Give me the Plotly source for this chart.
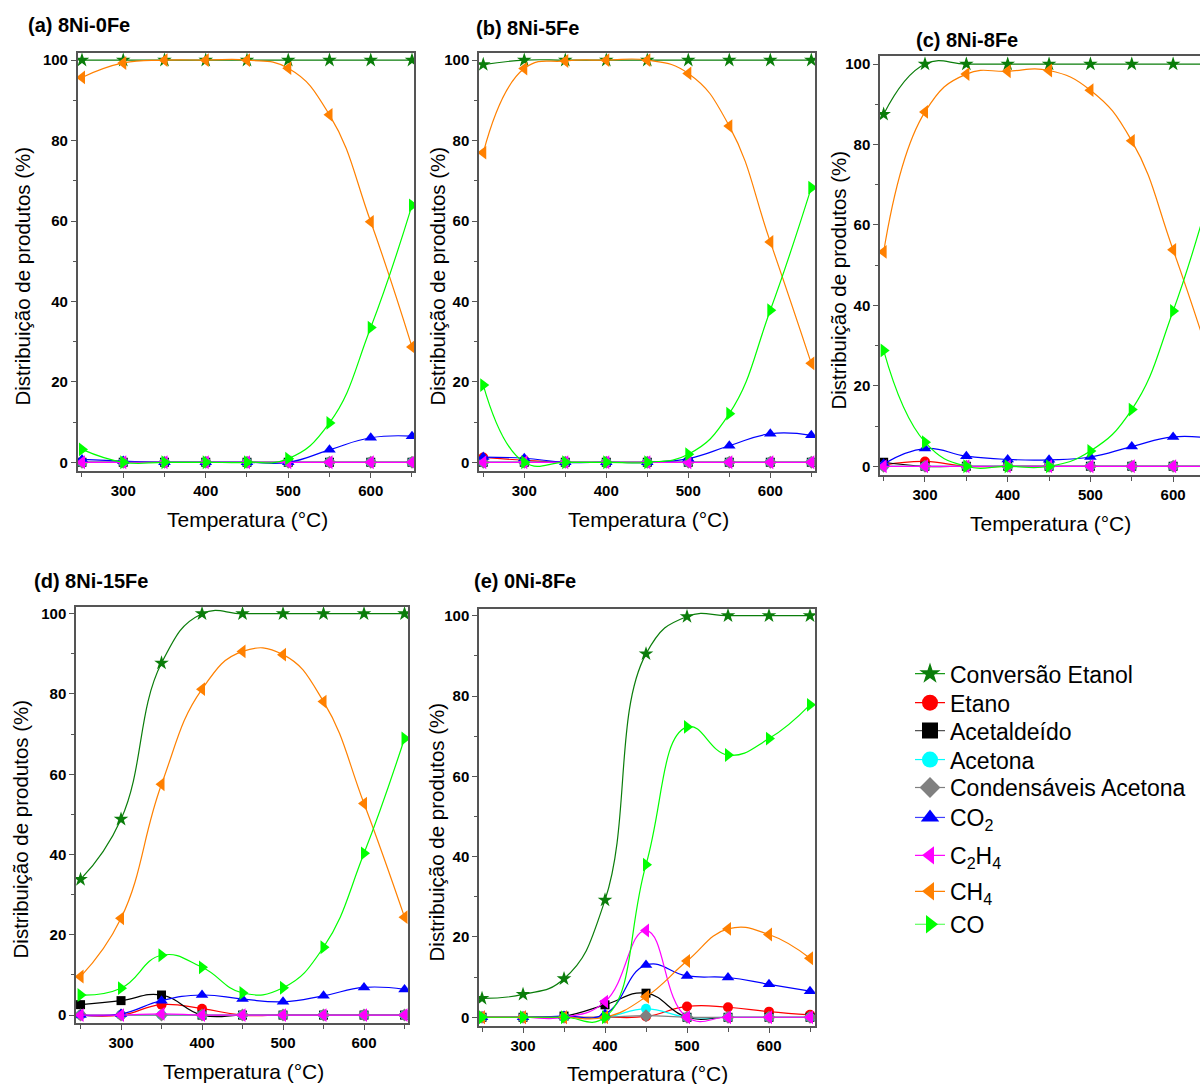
import plotly.graph_objects as go

# ---------------- DATA ----------------
temps = [250, 300, 350, 400, 450, 500, 550, 600, 650]

series_names = ["Conversão Etanol", "Etano", "Acetaldeído", "Acetona",
                "Condensáveis Acetona", "CO<sub>2</sub>", "C<sub>2</sub>H<sub>4</sub>",
                "CH<sub>4</sub>", "CO"]

# (a) 8Ni-0Fe
a_conv = [100, 100, 100, 100, 100, 100, 100, 100, 100]
a_etano = [0, 0, 0, 0, 0, 0, 0, 0, 0]
a_acetald = [0, 0, 0, 0, 0, 0, 0, 0, 0]
a_acetona = [0, 0, 0, 0, 0, 0, 0, 0, 0]
a_cond = [0, 0, 0, 0, 0, 0, 0, 0, 0]
a_co2 = [0.7, 0.3, 0, 0, 0, 0, 3.1, 6.1, 6.5]
a_c2h4 = [0, 0, 0, 0, 0, 0, 0, 0, 0]
a_ch4 = [95.7, 99.3, 100, 100, 100, 98, 86.4, 59.8, 28.7]
a_co = [3.2, 0, 0, 0, 0, 0.9, 9.8, 33.5, 63.9]

# (b) 8Ni-5Fe
b_conv = [98.9, 100, 100, 100, 100, 100, 100, 100, 100]
b_etano = [1.2, 0.5, 0, 0, 0, 0, 0, 0, 0]
b_acetald = [0, 0, 0, 0, 0, 0, 0, 0, 0]
b_acetona = [0, 0, 0, 0, 0, 0, 0, 0, 0]
b_cond = [0, 0, 0, 0, 0, 0, 0, 0, 0]
b_co2 = [1.3, 1.0, 0, 0, 0, 0.9, 4.1, 7.1, 6.7]
b_c2h4 = [0, 0, 0, 0, 0, 0, 0, 0, 0]
b_ch4 = [77, 97.9, 99.8, 100, 100, 96.7, 83.6, 54.8, 24.6]
b_co = [19.2, 0, 0, 0, 0, 2, 12.1, 37.8, 68.3]

# (c) 8Ni-8Fe
c_conv = [87.5, 100, 100, 100, 100, 100, 100, 100, 100]
c_etano = [0.3, 1.2, 0, 0, 0, 0, 0, 0, 0]
c_acetald = [1.0, 0, 0, 0, 0, 0, 0, 0, 0]
c_acetona = [0, 0, 0, 0, 0, 0, 0, 0, 0]
c_cond = [0, 0, 0, 0, 0, 0, 0, 0, 0]
c_co2 = [0.6, 4.4, 2.5, 1.7, 1.6, 2.3, 4.9, 7.3, 6.8]
c_c2h4 = [0, 0, 0, 0, 0, 0, 0, 0, 0]
c_ch4 = [53.3, 88.1, 97.5, 98.2, 98.4, 93.5, 80.9, 53.8, 23]
c_co = [28.8, 6, 0, 0, 0, 3.8, 14.1, 38.6, 72]

# (d) 8Ni-15Fe
d_conv = [33.8, 48.8, 87.7, 100, 100, 100, 100, 100, 100]
d_etano = [0, 0, 2.6, 1.6, 0, 0, 0, 0, 0]
d_acetald = [2.6, 3.6, 5.0, 0, 0, 0, 0, 0, 0]
d_acetona = [0, 0, 0, 0, 0, 0, 0, 0, 0]
d_cond = [0, 0, 0, 0, 0, 0, 0, 0, 0]
d_co2 = [0, 0.3, 3.6, 5.0, 4.0, 3.3, 4.8, 6.9, 6.4]
d_c2h4 = [0, 0, 0.3, 0, 0, 0, 0, 0, 0]
d_ch4 = [9.6, 24.1, 57.5, 81.2, 90.6, 89.8, 78.1, 52.7, 24.4]
d_co = [5.0, 6.7, 14.9, 11.9, 5.5, 6.8, 16.9, 40.3, 68.9]

# (e) 0Ni-8Fe
e_conv = [4.7, 5.7, 9.6, 29.2, 90.5, 99.8, 100, 100, 100]
e_etano = [0, 0, 0, 0, 0.2, 2.7, 2.5, 1.4, 0.6]
e_acetald = [0, 0, 0.3, 3.1, 6.0, 0, 0, 0, 0]
e_acetona = [0, 0, 0, 0, 2.1, 0, 0, 0, 0]
e_cond = [0, 0, 0, 0, 0.4, 0, 0, 0, 0]
e_co2 = [0, 0, 0.3, 0.8, 13.0, 10.3, 9.9, 8.2, 6.5]
e_c2h4 = [0, 0, 0, 3.9, 21.6, 0, 0, 0, 0]
e_ch4 = [0, 0, 0, 0, 5.1, 14.0, 22.0, 20.6, 14.7]
e_co = [0, 0, 0, 0, 38.0, 72.3, 65.3, 69.4, 77.8]

panel_titles = ["(a) 8Ni-0Fe", "(b) 8Ni-5Fe", "(c) 8Ni-8Fe", "(d) 8Ni-15Fe", "(e) 0Ni-8Fe"]
x_title = "Temperatura (°C)"
y_title = "Distribuição de produtos (%)"
x_ticks = [300, 400, 500, 600]
y_ticks = [0, 20, 40, 60, 80, 100]

panel_data = [
    [a_conv, a_etano, a_acetald, a_acetona, a_cond, a_co2, a_c2h4, a_ch4, a_co],
    [b_conv, b_etano, b_acetald, b_acetona, b_cond, b_co2, b_c2h4, b_ch4, b_co],
    [c_conv, c_etano, c_acetald, c_acetona, c_cond, c_co2, c_c2h4, c_ch4, c_co],
    [d_conv, d_etano, d_acetald, d_acetona, d_cond, d_co2, d_c2h4, d_ch4, d_co],
    [e_conv, e_etano, e_acetald, e_acetona, e_cond, e_co2, e_c2h4, e_ch4, e_co],
]

# ---------------- STYLE ----------------
colors = ["#0a7d0a", "#ff0000", "#000000", "#00ffff", "#808080",
          "#0000ff", "#ff00ff", "#ff8000", "#00ff00"]
legend_line_colors = ["#1a9a1a", "#ff0000", "#555555", "#00ffff", "#808080",
                      "#4040ff", "#ff00ff", "#ff8000", "#40ff40"]
symbols = ["star", "circle", "square", "circle", "diamond",
           "triangle-up", "triangle-left", "triangle-left", "triangle-right"]
msizes = [11, 10, 9, 10, 10, 11, 12, 12, 12]

W, H = 1200, 1084
FONT = "Liberation Sans, Arial, sans-serif"

# pixel layout of each panel: (x_left, x_right), (y_top, y_bottom), x-range, y-range
layouts = [
    dict(dx=(77.7, 414.3), dy=(51, 470), xr=(244.8, 652.8), yr=(-2.2, 101.8),
         tpos=(26, 23), ytpos=(22, 275), xtpos=(247, 518), mirror_y=True),
    dict(dx=(479, 815), dy=(51, 470), xr=(244.8, 654.5), yr=(-2.2, 101.8),
         tpos=(474, 26), ytpos=(437, 275), xtpos=(648, 518), mirror_y=True),
    dict(dx=(880, 1200), dy=(54.5, 474), xr=(245.6, 632.5), yr=(-2.2, 101.9),
         tpos=(914, 38), ytpos=(838, 279), xtpos=(1050, 522), mirror_y=False),
    dict(dx=(76, 408), dy=(606, 1023), xr=(244.4, 654.3), yr=(-2.0, 101.7),
         tpos=(32, 580), ytpos=(20, 829), xtpos=(243, 1071), mirror_y=True),
    dict(dx=(479, 815), dy=(608, 1026), xr=(246.3, 656.1), yr=(-2.2, 101.7),
         tpos=(472, 580), ytpos=(436, 832), xtpos=(647, 1073), mirror_y=True),
]

# vertical pixel centre of each legend entry
legend_item_y = [673, 702, 730, 759, 787, 817, 855, 891, 924]
legend_x = 910


def px(x):
    return x / W


def py(y):
    return 1 - y / H


fig = go.Figure()
annotations = []
layout_axes = {}

for i, (data, L) in enumerate(zip(panel_data, layouts)):
    n = i + 1
    xa = "x" if n == 1 else f"x{n}"
    ya = "y" if n == 1 else f"y{n}"
    for k, vals in enumerate(data):
        fig.add_trace(go.Scatter(
            x=temps, y=vals, xaxis=xa, yaxis=ya,
            mode="lines+markers", name=series_names[k], showlegend=False,
            line=dict(color=colors[k], width=1.2, shape="spline", smoothing=1.3),
            marker=dict(symbol=symbols[k], size=msizes[k], color=colors[k],
                        line=dict(width=0)),
        ))
    axis_common = dict(showline=True, linecolor="#555555", linewidth=1.5,
                       ticks="outside", ticklen=5, tickwidth=1.3, tickcolor="#555555",
                       showgrid=False, zeroline=False,
                       tickfont=dict(family=FONT, size=15, color="#000000", weight="bold"))
    layout_axes["xaxis" if n == 1 else f"xaxis{n}"] = dict(
        axis_common, domain=[px(L["dx"][0]), px(L["dx"][1])], range=list(L["xr"]),
        anchor=ya, tickvals=x_ticks, mirror=True,
        minor=dict(tickvals=[250, 350, 450, 550, 650], ticks="outside", ticklen=4,
                   tickcolor="#555555", tickwidth=1.2),
    )
    layout_axes["yaxis" if n == 1 else f"yaxis{n}"] = dict(
        axis_common, domain=[py(L["dy"][1]), py(L["dy"][0])], range=list(L["yr"]),
        anchor=xa, tickvals=y_ticks, mirror=L["mirror_y"],
        minor=dict(tickvals=[10, 30, 50, 70, 90], ticks="outside", ticklen=3,
                   tickcolor="#555555", tickwidth=1.2),
    )
    annotations.append(dict(text=panel_titles[i], x=px(L["tpos"][0]), y=py(L["tpos"][1]),
                            xref="paper", yref="paper", xanchor="left", yanchor="middle",
                            showarrow=False,
                            font=dict(family=FONT, size=20, color="#000000", weight="bold")))
    annotations.append(dict(text=y_title, x=px(L["ytpos"][0]), y=py(L["ytpos"][1]),
                            xref="paper", yref="paper", xanchor="center", yanchor="middle",
                            textangle=-90, showarrow=False,
                            font=dict(family=FONT, size=20.5, color="#000000")))
    annotations.append(dict(text=x_title, x=px(L["xtpos"][0]), y=py(L["xtpos"][1]),
                            xref="paper", yref="paper", xanchor="center", yanchor="middle",
                            showarrow=False,
                            font=dict(family=FONT, size=21, color="#000000")))

# legend-only entries, one small legend per entry so spacing can match
legends = {}
for k, nm in enumerate(series_names):
    lname = "legend" if k == 0 else f"legend{k + 1}"
    fig.add_trace(go.Scatter(
        x=[None], y=[None], xaxis="x", yaxis="y", mode="lines+markers", name=nm,
        showlegend=True, legend=lname,
        line=dict(color=legend_line_colors[k], width=1.2),
        marker=dict(symbol=symbols[k], size=16, color=colors[k], line=dict(width=0)),
    ))
    legends[lname] = dict(x=px(legend_x), y=py(legend_item_y[k]), xanchor="left",
                          yanchor="middle",
                          font=dict(family=FONT, size=23, color="#000000"),
                          bgcolor="rgba(0,0,0,0)", borderwidth=0, itemsizing="trace")

fig.update_layout(
    width=W, height=H, autosize=False,
    margin=dict(l=0, r=0, t=0, b=0),
    paper_bgcolor="white", plot_bgcolor="white",
    font=dict(family=FONT, color="#000000"),
    annotations=annotations,
    **legends,
    **layout_axes,
)

fig.write_html("out.html")
